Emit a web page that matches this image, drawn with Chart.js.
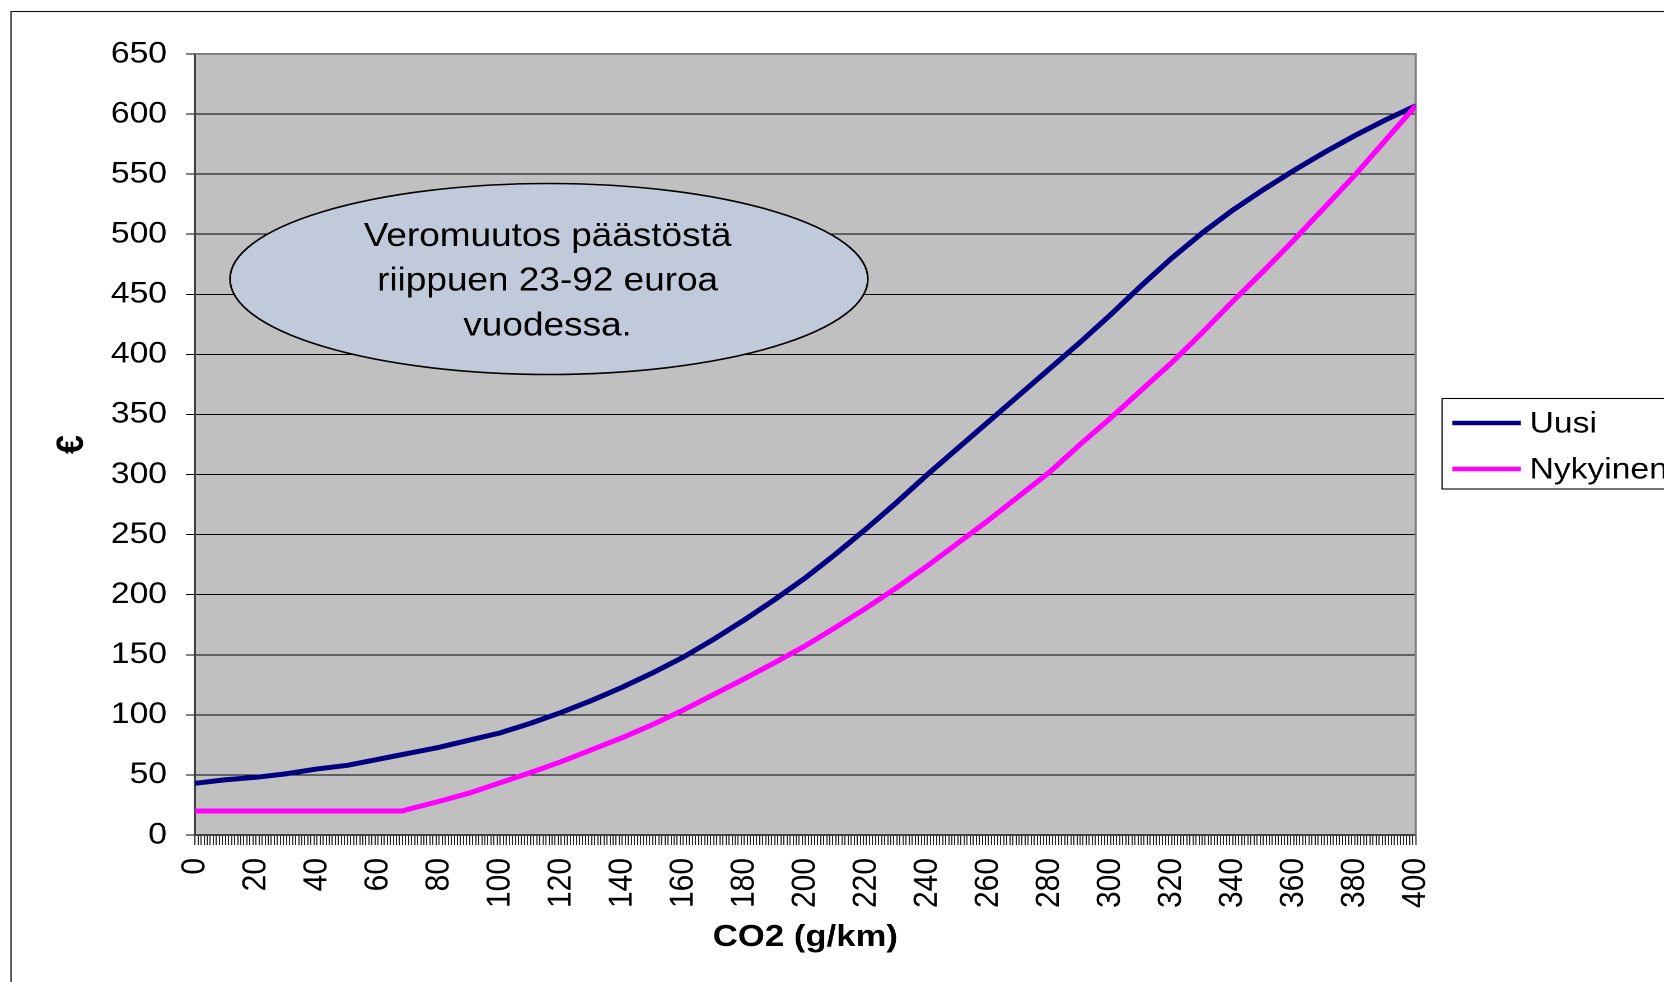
<!DOCTYPE html>
<html>
<head>
<meta charset="utf-8">
<script src="https://cdn.jsdelivr.net/npm/chart.js@4.4.1/dist/chart.umd.min.js"></script>
<style>
    html, body { margin: 0; padding: 0; background: #fff; }
</style>
</head>
<body>
<!-- the source picture is stretched sideways, so the canvas is drawn narrower and widened by its inline style -->
<canvas id="co2Chart" width="1486" height="982" style="display:block;width:1664px;height:982px"></canvas>
<script>
// CO2 (g/km) sample points
const co2 = [0, 10, 20, 30, 40, 50, 60, 68, 70, 80, 90, 100, 110, 120, 130, 140, 150, 160, 170, 180, 190,
    200, 210, 220, 230, 240, 250, 260, 270, 280, 290, 300, 310, 320, 330, 340, 350, 360, 370, 380, 390, 400];

// € per year
const uusi = [43, 46, 48, 51, 55, 58, 63, 67, 68, 73, 79, 85, 93, 102, 112, 123, 135, 148, 163, 179, 196,
    214, 234, 255, 277, 300, 322, 344, 366, 388, 410, 433, 457, 480, 501, 520, 537, 553, 568, 582, 595, 607];

const nykyinen = [20, 20, 20, 20, 20, 20, 20, 20, 21.5, 28, 35, 43.5, 52, 61, 71, 81, 92, 104, 117, 130, 143.5,
    157.5, 173, 189, 206, 224, 243, 262, 282, 302, 325, 347, 370, 393, 418, 444, 469, 495, 522, 549, 578, 607];

const seriesNames = ["Uusi", "Nykyinen"];
const seriesColors = ["#000080", "#ff00ff"];

const xMax = 400;
const xLabelEvery = 20;
const yMax = 650;
const yStep = 50;

const noteLines = ["Veromuutos päästöstä", "riippuen 23-92 euroa", "vuodessa."];

const FONT = "'Liberation Sans', Arial, sans-serif";

const toPoints = (values) => co2.map((x, i) => ({ x: x, y: values[i] }));

const frameAndBackground = {
    id: "frameAndBackground",
    beforeDraw(chart) {
        const { ctx, chartArea } = chart;
        ctx.save();
        ctx.fillStyle = "#c0c0c0";
        ctx.fillRect(chartArea.left, chartArea.top, chartArea.right - chartArea.left, chartArea.bottom - chartArea.top);
        ctx.strokeStyle = "#111";
        ctx.lineWidth = 1.1;
        ctx.strokeRect(9.8, 11.5, 4000, 4000);
        ctx.restore();
    },
    beforeDatasetsDraw(chart) {
        const { ctx, chartArea } = chart;
        ctx.save();
        ctx.strokeStyle = "#808080";
        ctx.lineWidth = 2;
        ctx.beginPath();
        ctx.moveTo(chartArea.left, chartArea.top);
        ctx.lineTo(chartArea.right, chartArea.top);
        ctx.lineTo(chartArea.right, chartArea.bottom);
        ctx.stroke();
        ctx.restore();
    },
};

const noteEllipse = {
    id: "noteEllipse",
    afterDatasetsDraw(chart) {
        const ctx = chart.ctx;
        ctx.save();
        ctx.beginPath();
        ctx.ellipse(490.2, 279, 284.8, 95.5, 0, 0, Math.PI * 2);
        ctx.fillStyle = "#c1cadb";
        ctx.fill();
        ctx.strokeStyle = "#000";
        ctx.lineWidth = 1.6;
        ctx.stroke();
        ctx.fillStyle = "#000";
        ctx.font = `33px ${FONT}`;
        ctx.textAlign = "center";
        ctx.textBaseline = "middle";
        noteLines.forEach((line, i) => {
            ctx.fillText(line, 489, 237 + i * 44.6);
        });
        ctx.restore();
    },
};

const boxLegend = {
    id: "boxLegend",
    afterDraw(chart) {
        const ctx = chart.ctx;
        ctx.save();
        ctx.strokeStyle = "#000";
        ctx.lineWidth = 1.1;
        ctx.strokeRect(1287.8, 398.5, 600, 90.5);
        ctx.font = `30px ${FONT}`;
        ctx.textAlign = "left";
        ctx.textBaseline = "middle";
        seriesNames.forEach((name, i) => {
            const y = 423 + i * 46;
            ctx.strokeStyle = seriesColors[i];
            ctx.lineWidth = 4.5;
            ctx.beginPath();
            ctx.moveTo(1297, y);
            ctx.lineTo(1358, y);
            ctx.stroke();
            ctx.fillStyle = "#000";
            ctx.fillText(name, 1366, y + 1);
        });
        ctx.restore();
    },
};

const ctx = document.getElementById("co2Chart").getContext("2d");
new Chart(ctx, {
    type: "line",
    data: {
        datasets: [
            {
                label: seriesNames[0],
                data: toPoints(uusi),
                borderColor: seriesColors[0],
                backgroundColor: seriesColors[0],
                borderWidth: 5,
                pointRadius: 0,
                tension: 0,
                order: 1,
            },
            {
                label: seriesNames[1],
                data: toPoints(nykyinen),
                borderColor: seriesColors[1],
                backgroundColor: seriesColors[1],
                borderWidth: 5,
                pointRadius: 0,
                tension: 0,
                order: 0,
            },
        ],
    },
    options: {
        responsive: false,
        animation: false,
        devicePixelRatio: 2,
        layout: { padding: { left: 10, top: 54, right: 221.7, bottom: 0 } },
        plugins: {
            legend: { display: false },
            tooltip: { enabled: false },
        },
        scales: {
            x: {
                type: "linear",
                min: 0,
                max: xMax,
                afterFit: (scale) => { scale.height = 147; },
                border: { color: "#404040", width: 2 },
                grid: { drawOnChartArea: false, tickLength: 10, color: "#222", lineWidth: 1 },
                ticks: {
                    stepSize: 1,
                    autoSkip: false,
                    minRotation: 90,
                    maxRotation: 90,
                    padding: 13,
                    color: "#000",
                    font: { family: FONT, size: 30 },
                    callback: (value) => (value % xLabelEvery === 0 ? String(value) : ""),
                },
                title: {
                    display: true,
                    text: "CO2 (g/km)",
                    color: "#000",
                    font: { family: FONT, size: 31, weight: "bold" },
                    padding: { top: 0, bottom: 26 },
                },
            },
            y: {
                min: 0,
                max: yMax,
                afterFit: (scale) => { scale.width = 164.1; },
                border: { color: "#404040", width: 2 },
                grid: { color: "#000", lineWidth: 1, tickLength: 8 },
                ticks: {
                    stepSize: yStep,
                    padding: 17,
                    color: "#000",
                    font: { family: FONT, size: 30 },
                },
                title: {
                    display: true,
                    text: "€",
                    color: "#000",
                    font: { family: FONT, size: 34, weight: "bold" },
                    padding: { top: 34, bottom: 0 },
                },
            },
        },
    },
    plugins: [frameAndBackground, noteEllipse, boxLegend],
});
</script>
</body>
</html>
